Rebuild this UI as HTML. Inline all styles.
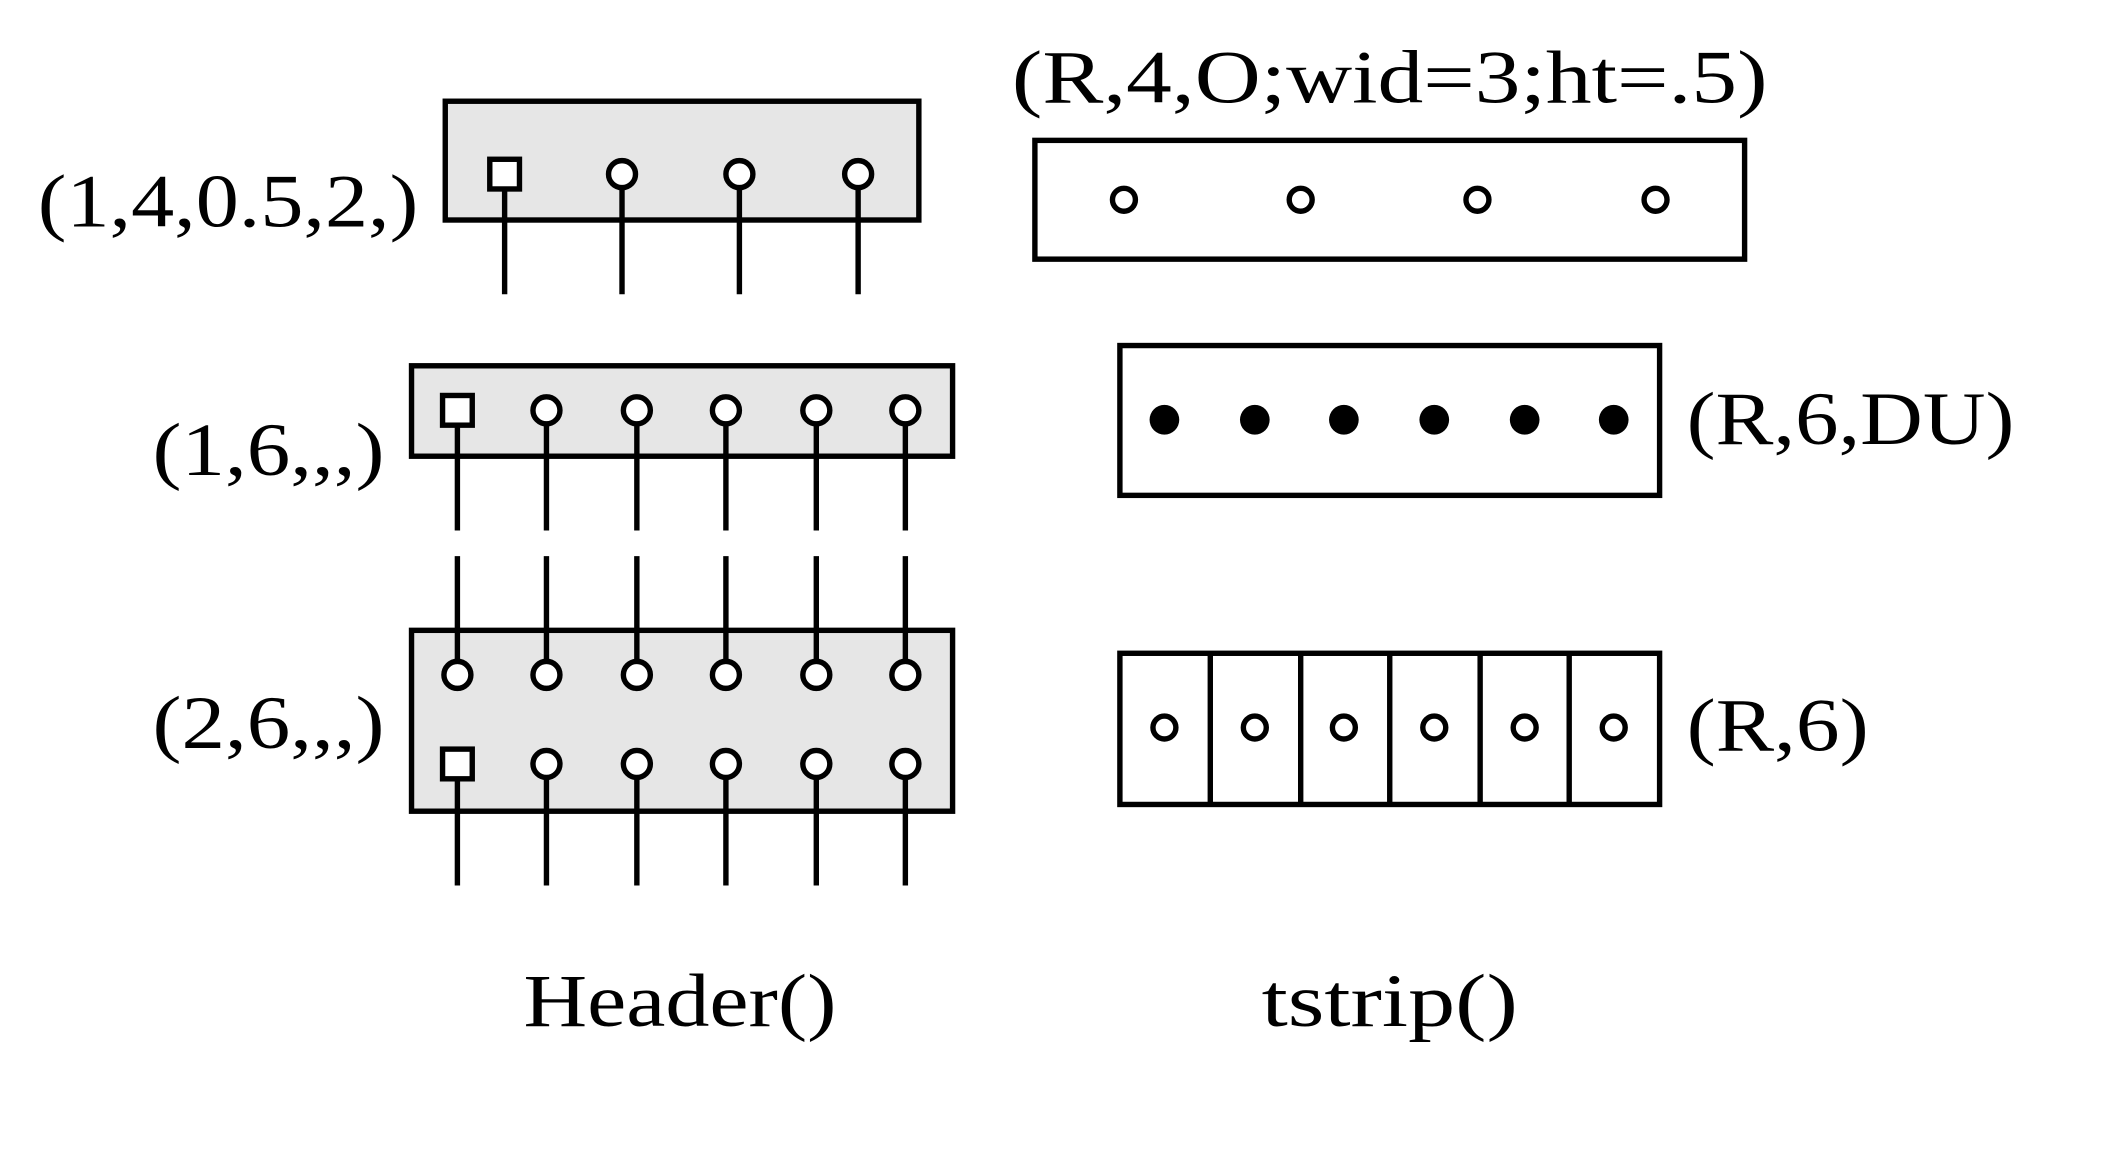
<!DOCTYPE html>
<html><head><meta charset="utf-8"><style>
html,body{margin:0;padding:0;background:#fff;}
svg{display:block;}
text{font-family:"Liberation Serif",serif;font-size:56px;fill:#000;}
</style></head><body>
<svg width="2117" height="1150" viewBox="0 0 1569 852" preserveAspectRatio="none" xmlns="http://www.w3.org/2000/svg">
<g stroke="#000" stroke-width="4" fill="none">
<rect x="330" y="75" width="351" height="88" fill="#e6e6e6"/>
<path d="M374 140V218M461 140V218M548 140V218M636 140V218"/>
<rect x="363" y="118" width="22" height="22" fill="#fff"/>
<circle cx="461" cy="129" r="10" fill="#fff"/>
<circle cx="548" cy="129" r="10" fill="#fff"/>
<circle cx="636" cy="129" r="10" fill="#fff"/>
<rect x="305" y="271" width="401" height="67" fill="#e6e6e6"/>
<path d="M339 315V393M405 315V393M472 315V393M538 315V393M605 315V393M671 315V393"/>
<rect x="328" y="293" width="22" height="22" fill="#fff"/>
<circle cx="405" cy="304" r="10" fill="#fff"/>
<circle cx="472" cy="304" r="10" fill="#fff"/>
<circle cx="538" cy="304" r="10" fill="#fff"/>
<circle cx="605" cy="304" r="10" fill="#fff"/>
<circle cx="671" cy="304" r="10" fill="#fff"/>
<rect x="305" y="467" width="401" height="134" fill="#e6e6e6"/>
<path d="M339 412V490M405 412V490M472 412V490M538 412V490M605 412V490M671 412V490"/>
<path d="M339 577V656M405 577V656M472 577V656M538 577V656M605 577V656M671 577V656"/>
<circle cx="339" cy="500" r="10" fill="#fff"/>
<circle cx="405" cy="500" r="10" fill="#fff"/>
<circle cx="472" cy="500" r="10" fill="#fff"/>
<circle cx="538" cy="500" r="10" fill="#fff"/>
<circle cx="605" cy="500" r="10" fill="#fff"/>
<circle cx="671" cy="500" r="10" fill="#fff"/>
<rect x="328" y="555" width="22" height="22" fill="#fff"/>
<circle cx="405" cy="566" r="10" fill="#fff"/>
<circle cx="472" cy="566" r="10" fill="#fff"/>
<circle cx="538" cy="566" r="10" fill="#fff"/>
<circle cx="605" cy="566" r="10" fill="#fff"/>
<circle cx="671" cy="566" r="10" fill="#fff"/>
<rect x="767" y="104" width="526" height="88" fill="#fff"/>
<circle cx="833" cy="148" r="8.5"/>
<circle cx="964" cy="148" r="8.5"/>
<circle cx="1095" cy="148" r="8.5"/>
<circle cx="1227" cy="148" r="8.5"/>
<rect x="830" y="256" width="400" height="111"/>
<g fill="#000" stroke="none">
<circle cx="863" cy="311" r="11"/><circle cx="930" cy="311" r="11"/><circle cx="996" cy="311" r="11"/>
<circle cx="1063" cy="311" r="11"/><circle cx="1130" cy="311" r="11"/><circle cx="1196" cy="311" r="11"/>
</g>
<rect x="830" y="484" width="400" height="112"/>
<path d="M897 484V596M964 484V596M1030 484V596M1097 484V596M1163 484V596"/>
<circle cx="863" cy="539" r="8.5"/>
<circle cx="930" cy="539" r="8.5"/>
<circle cx="996" cy="539" r="8.5"/>
<circle cx="1063" cy="539" r="8.5"/>
<circle cx="1130" cy="539" r="8.5"/>
<circle cx="1196" cy="539" r="8.5"/>
</g>
<text x="28" y="168" textLength="282" lengthAdjust="spacingAndGlyphs">(1,4,0.5,2,)</text>
<text x="113" y="352" textLength="172" lengthAdjust="spacingAndGlyphs">(1,6,,,)</text>
<text x="113" y="554" textLength="172" lengthAdjust="spacingAndGlyphs">(2,6,,,)</text>
<text x="750" y="76" textLength="560" lengthAdjust="spacingAndGlyphs">(R,4,O;wid=3;ht=.5)</text>
<text x="1250" y="329" textLength="243" lengthAdjust="spacingAndGlyphs">(R,6,DU)</text>
<text x="1250" y="556" textLength="135" lengthAdjust="spacingAndGlyphs">(R,6)</text>
<text x="388" y="760" textLength="232" lengthAdjust="spacingAndGlyphs">Header()</text>
<text x="935" y="760" textLength="190" lengthAdjust="spacingAndGlyphs">tstrip()</text>
</svg>
</body></html>
